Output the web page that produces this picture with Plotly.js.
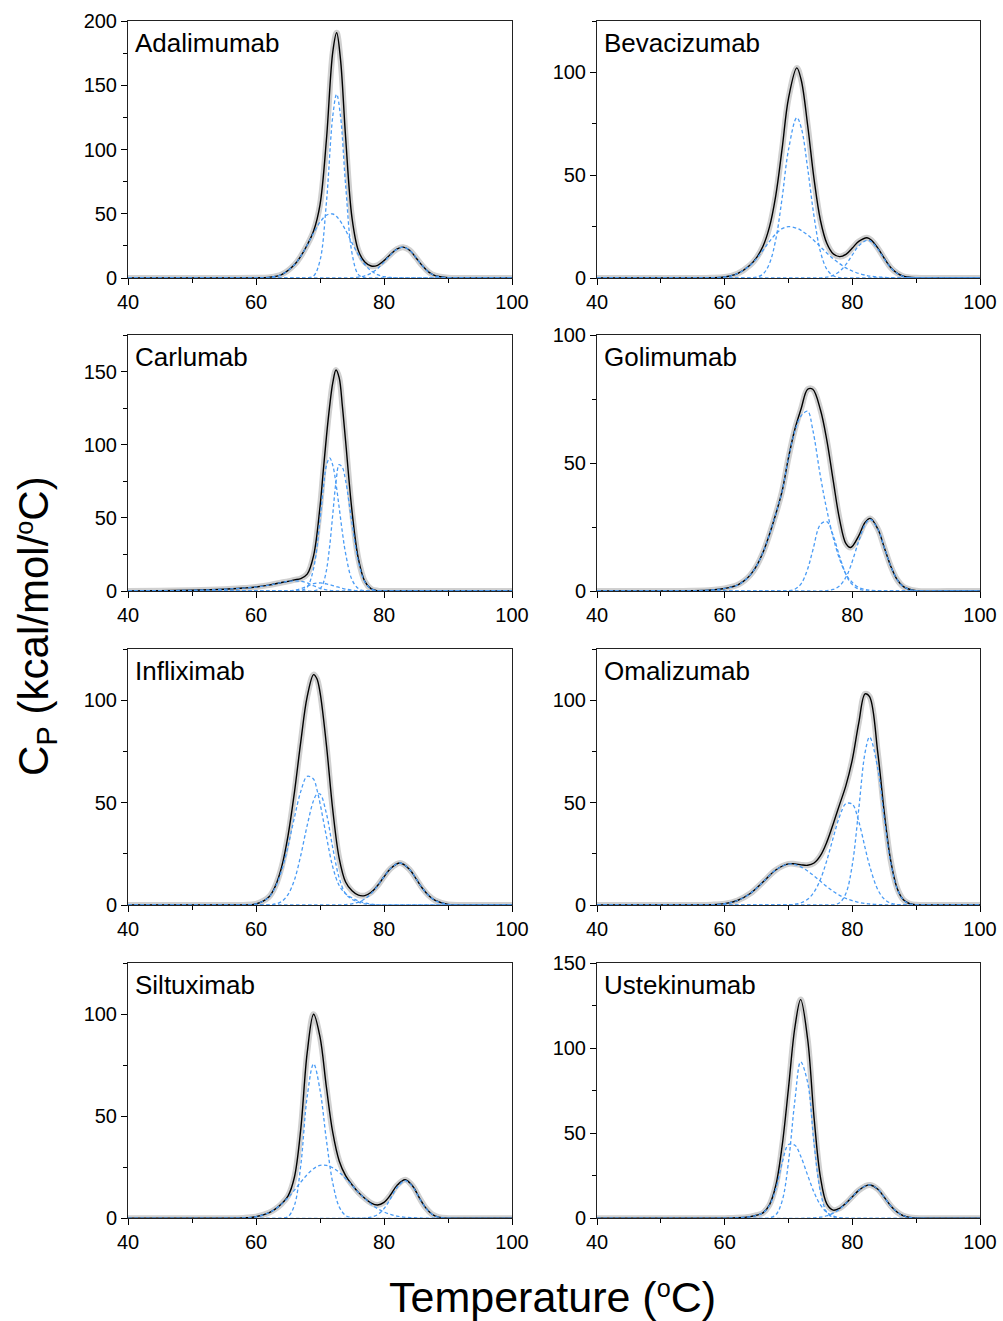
<!DOCTYPE html>
<html><head><meta charset="utf-8">
<script src="https://cdn.plot.ly/plotly-3.0.1.min.js"></script>
<style>body{margin:0;background:#fff}#chart{width:1003px;height:1321px}</style>
</head><body><div id="chart"></div>
<script>
// ---------- Adalimumab ----------
const adaT   = [40,55,60,62,64,66,67,68,69,70,71,72,72.6,73.2,74,75,76,77,78,79,80,81,82,83,84,85,86,87,88,90,92,95,100];
const adaFit = [0,0,0.1,0.5,2.7,10.3,17,25.7,36.6,57,107.4,176,190.8,170.3,109.7,46.8,21.3,12.4,9.3,9.9,13.5,18.3,22.5,24,21.6,15.8,9.5,4.6,1.8,0.2,0,0,0];
const adaC1  = [0,0,0,0,0,0,0,0.1,1.6,13.6,58.6,126.2,143,126.2,72.4,19.3,2.6,0.2,0,0,0,0,0,0,0,0,0,0,0,0,0,0,0];
const adaC2  = [0,0,0.06,0.5,2.7,10.3,17,25.6,35,43.4,48.8,49.8,47.8,44.1,37.2,27.3,18,10.5,5.5,2.6,1.1,0.4,0.15,0,0,0,0,0,0,0,0,0,0];
const adaC3  = [0,0,0,0,0,0,0,0,0,0,0,0,0,0,0.06,0.2,0.65,1.7,3.8,7.3,12.4,17.9,22.3,24,21.6,15.8,9.5,4.6,1.8,0.15,0,0,0];
// ---------- Bevacizumab ----------
const bevT   = [40,50,55,58,60,62,64,65,66,67,68,69,70,71.3,72,73,74,75,76,77,78,79,80,81,82.3,83,84,85,86,87,88,90,95,100];
const bevFit = [0,0,0,0.1,0.5,2.1,6.3,9.9,15.4,24.6,40,62.9,87.4,102.2,96.2,74.3,48.2,28.1,16.9,11.8,10.4,11.5,14.6,17.8,19.6,18.4,14.5,9.6,5.15,2.4,0.85,0.07,0,0];
const bevC1  = [0,0,0,0.1,0.5,2.1,6.2,9.5,13.5,17.7,21.4,24,25,24.2,23.1,20.9,18.2,15.2,12.2,9.4,7.0,4.9,3.4,2.2,1.2,0.8,0.5,0.3,0.15,0.1,0.05,0,0,0];
const bevC2  = [0,0,0,0,0,0,0.07,0.4,1.9,6.9,18.6,38.9,62.4,78,73.1,53.4,30,12.8,4.3,1.1,0.2,0,0,0,0,0,0,0,0,0,0,0,0,0];
const bevC3  = [0,0,0,0,0,0,0,0,0,0,0,0,0,0,0,0,0.03,0.1,0.4,1.3,3.2,6.6,11.2,15.6,18.4,17.6,14,9.3,5.0,2.3,0.8,0.07,0,0];
// ---------- Carlumab ----------
const carT   = [40,45,50,55,58,60,62,64,65,66,67,68,69,70,70.5,71,71.5,72,72.5,73,73.5,74,75,76,77,78,79,80,85,90,100];
const carFit = [0,0.2,0.5,1.2,2,2.7,4,5.8,6.6,7.6,8.5,11.5,24.2,57.6,81.5,105.2,126,142.4,151.1,145.7,126.2,102.5,54.7,21.95,6.6,1.4,0.2,0,0,0,0];
const carC1  = [0,0,0,0,0,0,0,0,0,0,0.3,2.7,15.5,48.7,69.7,85.6,91,85.9,73.3,56.9,40,25.7,7.7,1.6,0.2,0,0,0,0,0,0];
const carC2  = [0,0,0,0,0,0,0,0,0,0,0,0,0.1,1.6,5.3,14,30.3,52.6,74.6,86.4,84.4,75.5,46.4,20.1,6.3,1.4,0.2,0,0,0,0];
const carC3  = [0,0.2,0.5,1.2,2,2.7,4,5.8,6.6,7,6.6,5.5,3.6,1.8,1.2,0.7,0.4,0.2,0.1,0,0,0,0,0,0,0,0,0,0,0,0];
const carC4  = [0,0,0,0,0,0,0,0,0,0.6,1.6,3.3,5.0,5.5,5.3,4.9,4.3,3.7,3.1,2.4,1.8,1.3,0.6,0.25,0.1,0,0,0,0,0,0];
// ---------- Golimumab ----------
const golT   = [40,50,55,58,60,62,63,64,65,66,67,68,69,70,71,72,73,73.8,75,76,77,78,79,79.75,81,82,82.8,84,85,86,87,88,90,95,100];
const golFit = [0,0,0.1,0.4,1.0,2.3,3.9,6.2,9.8,15,22,30,39,52.1,63.2,71.4,78.8,78.8,70.8,58.95,43.2,28,18.5,17,21.5,26.8,28.35,24.2,17,9.8,4.5,1.7,0.1,0,0];
const golC1  = [0,0,0.1,0.4,1.0,2.3,3.9,6.2,9.8,15,22,30,39,52,62.5,68.5,70.2,63,44.8,31.7,20.9,12.5,6.6,4.0,1.4,0.6,0.3,0.1,0,0,0,0,0,0,0];
const golC2  = [0,0,0,0,0,0,0,0,0,0,0,0,0,0.1,0.7,2.9,8.6,15.8,26,27.1,21.7,13.5,6.5,3.2,0.7,0.2,0.05,0,0,0,0,0,0,0,0];
const golC3  = [0,0,0,0,0,0,0,0,0,0,0,0,0,0,0,0,0,0,0,0.15,0.6,2.0,5.4,9.8,19.4,26,28,24.1,17,9.8,4.5,1.7,0.1,0,0];
// ---------- Infliximab ----------
const infT   = [40,50,55,58,60,62,63,64,65,66,67,68,69,69.5,70,71,72,73,74,75,76,77,78,79,80,81,82.5,84,85,86,87,88,90,92,95,100];
const infFit = [0,0,0,0.04,0.5,3.9,9.1,18.5,33.8,54.9,79.8,101.7,112.5,110.6,103.9,78.2,46.3,22.8,11.2,6.9,4.8,4.6,6.2,9.5,13.8,17.7,20.5,17.3,12.9,8.2,4.6,2.2,0.3,0.02,0,0];
const infC1  = [0,0,0,0.04,0.5,3.8,8.6,16.8,28.7,42.7,55.5,62.8,61.4,56.6,49.7,33.5,18.5,9.5,5.5,3.5,2,1,0.4,0.1,0,0,0,0,0,0,0,0,0,0,0,0];
const infC2  = [0,0,0,0,0,0.1,0.5,1.7,5.1,12.2,24.3,38.9,51.1,54,54.2,44.7,27.8,13.2,5.5,2.8,1.4,0.6,0.2,0,0,0,0,0,0,0,0,0,0,0,0,0];
const infC3  = [0,0,0,0,0,0,0,0,0,0,0,0,0,0,0,0,0.02,0.07,0.2,0.6,1.4,3.0,5.6,9.4,13.8,17.7,20.5,17.3,12.9,8.2,4.6,2.2,0.3,0.02,0,0];
// ---------- Omalizumab ----------
const omaT   = [40,50,55,58,60,62,64,66,68,70,71,72,73,74,75,76,77,78,79,80,81,82,82.7,84,85,86,87,88,89,90,92,95,100];
const omaFit = [0,0,0.01,0.15,0.65,2.2,5.6,11.2,17.1,20.1,20.05,19.6,19.4,20.5,24.1,30.7,39.6,49,58.4,71,88.8,103.1,101.7,74,45.3,21.9,8.35,2.55,0.6,0.1,0,0,0];
const omaC1  = [0,0,0.01,0.15,0.65,2.2,5.6,11.2,17.1,20,19.7,18.5,16.6,14.2,11.6,9.0,6.7,4.7,3.2,2.1,1.3,0.7,0.5,0.2,0.1,0,0,0,0,0,0,0,0];
const omaC2  = [0,0,0,0,0,0,0,0,0,0.1,0.35,1.1,2.8,6.3,12.5,21.7,32.8,43.2,49.5,49.2,40.8,27.9,19.2,7.4,2.9,0.9,0.25,0.05,0,0,0,0,0];
const omaC3  = [0,0,0,0,0,0,0,0,0,0,0,0,0,0,0,0,0.1,1.1,5.7,19.7,46.7,74.5,82,66.4,42.3,21,8.1,2.5,0.6,0.1,0,0,0];
// ---------- Siltuximab ----------
const silT   = [40,50,55,58,60,62,63,64,65,66,67,68,69,70,71,72,73,74,75,76,77,78,79,80,81,82,83.3,84.5,85.5,86.5,87.5,88.5,90,92,95,100];
const silFit = [0,0,0.01,0.2,0.8,2.7,4.5,7.1,10.9,20.1,43.8,81.1,99.9,88.8,64.2,41.9,28.1,20.9,16.45,12.7,9.8,7.45,6.5,7.8,11.4,16,18.9,15.7,10.15,5.2,2.0,0.6,0.07,0,0,0];
const silC1  = [0,0,0,0,0,0,0,0.06,0.8,6.3,26.1,59.7,75.6,62.9,38.3,17.2,5.6,1.4,0.25,0,0,0,0,0,0,0,0,0,0,0,0,0,0,0,0,0];
const silC2  = [0,0,0.01,0.2,0.8,2.7,4.5,7.0,10.1,13.8,17.7,21.4,24.3,25.9,25.9,24.7,22.5,19.5,16.2,12.7,9.7,6.9,4.7,3.1,1.9,1.1,0.5,0.3,0.15,0.08,0.04,0,0,0,0,0];
const silC3  = [0,0,0,0,0,0,0,0,0,0,0,0,0,0,0,0,0,0,0,0.02,0.13,0.55,1.8,4.7,9.5,14.9,18.4,15.4,10,5.1,2.0,0.6,0.07,0,0,0];
// ---------- Ustekinumab ----------
const ustT   = [40,50,55,58,60,62,64,65,66,67,68,69,70,71,71.9,73,74,75,76,77,78,79,80,81,82,82.8,84,85,86,87,88,89,90,92,95,100];
const ustFit = [0,0,0,0,0.1,0.3,1.0,1.8,3.2,7.75,19.1,42.5,76.5,112.1,128.5,105.2,59.4,24.2,8.5,4.8,5.85,8.9,12.7,16.4,18.9,19.6,17.1,12.4,7.4,3.7,1.5,0.5,0.15,0,0,0];
const ustC1  = [0,0,0,0,0.1,0.3,1.0,1.8,3.2,7.5,17.1,32.4,43.4,42.9,36.6,25.3,15.3,7.9,3.5,1.3,0.4,0.1,0,0,0,0,0,0,0,0,0,0,0,0,0,0];
const ustC2  = [0,0,0,0,0,0,0,0,0,0.25,2.0,10.1,33.1,69.2,91.9,79.8,43.8,15.6,3.5,0.5,0.05,0,0,0,0,0,0,0,0,0,0,0,0,0,0,0];
const ustC3  = [0,0,0,0,0,0,0,0,0,0,0,0,0,0,0,0.1,0.27,0.7,1.5,3.0,5.4,8.8,12.7,16.4,18.9,19.6,17.1,12.4,7.4,3.7,1.5,0.5,0.15,0,0,0];

const names = ['Adalimumab','Bevacizumab','Carlumab','Golimumab','Infliximab','Omalizumab','Siltuximab','Ustekinumab'];
const xTicks = [40,60,80,100];

const panels = [
  {t:adaT, fit:adaFit, comps:[adaC1,adaC2,adaC3], ymax:200},
  {t:bevT, fit:bevFit, comps:[bevC1,bevC2,bevC3], ymax:125},
  {t:carT, fit:carFit, comps:[carC1,carC2,carC3,carC4], ymax:175},
  {t:golT, fit:golFit, comps:[golC1,golC2,golC3], ymax:100},
  {t:infT, fit:infFit, comps:[infC1,infC2,infC3], ymax:125},
  {t:omaT, fit:omaFit, comps:[omaC1,omaC2,omaC3], ymax:125},
  {t:silT, fit:silFit, comps:[silC1,silC2,silC3], ymax:125},
  {t:ustT, fit:ustFit, comps:[ustC1,ustC2,ustC3], ymax:150}
];

const W = 1003, H = 1321;
const colPx = [[128,512],[597,980]];
const rowPx = [[21,278],[335,591],[649,905],[963,1218.3]];
const FONT = 'Liberation Sans, Arial, Helvetica, sans-serif';

const traces = [];
const layout = {
  width: W, height: H,
  margin: {l:0, r:0, t:0, b:0},
  paper_bgcolor: '#fff', plot_bgcolor: '#fff',
  showlegend: false,
  font: {family: FONT, color: '#000'},
  annotations: []
};

panels.forEach((p, i) => {
  const k = i + 1;
  const xa = k === 1 ? 'x' : 'x' + k;
  const ya = k === 1 ? 'y' : 'y' + k;
  const col = i % 2, row = Math.floor(i / 2);
  const common = {x: p.t, mode: 'lines', xaxis: xa, yaxis: ya, hoverinfo: 'skip', showlegend: false};
  traces.push(Object.assign({}, common, {y: p.fit, line: {color: '#d0d0d0', width: 6, shape: 'spline', smoothing: 1}}));
  traces.push(Object.assign({}, common, {y: p.fit, line: {color: '#000', width: 1.4, shape: 'spline', smoothing: 1}}));
  p.comps.forEach(c => {
    traces.push(Object.assign({}, common, {y: c, line: {color: '#4a9cf6', width: 1.3, dash: '3.5px,2.5px', shape: 'spline', smoothing: 1}}));
  });
  const axBase = {
    ticks: 'outside', ticklen: 6, tickwidth: 1, tickcolor: '#000',
    showline: true, linecolor: '#222', linewidth: 1, mirror: true,
    showgrid: false, zeroline: false,
    tickfont: {size: 20, family: FONT, color: '#000'}
  };
  layout[(k === 1 ? 'xaxis' : 'xaxis' + k)] = Object.assign({}, axBase, {
    domain: [colPx[col][0] / W, colPx[col][1] / W],
    range: [40, 100], tickvals: xTicks, anchor: ya,
    minor: {dtick: 10, tick0: 40, ticks: 'outside', ticklen: 4, tickcolor: '#000', showgrid: false}
  });
  layout[(k === 1 ? 'yaxis' : 'yaxis' + k)] = Object.assign({}, axBase, {
    domain: [1 - rowPx[row][1] / H, 1 - rowPx[row][0] / H],
    range: [0, p.ymax], dtick: 50, tick0: 0, anchor: xa,
    minor: {dtick: 25, tick0: 0, ticks: 'outside', ticklen: 4, tickcolor: '#000', showgrid: false}
  });
  layout.annotations.push({
    xref: xa + ' domain', yref: ya + ' domain', x: 0.014, y: 0.98,
    xanchor: 'left', yanchor: 'top', showarrow: false,
    text: names[i], font: {size: 26, family: FONT, color: '#000'}
  });
});

layout.annotations.push({
  xref: 'paper', yref: 'paper', x: 552 / W, y: 1 - 1297 / H,
  xanchor: 'center', yanchor: 'middle', showarrow: false,
  text: 'Temperature (<span style="font-size:36px"><sup>o</sup></span>C)', font: {size: 43, family: FONT, color: '#000'}
});
layout.annotations.push({
  xref: 'paper', yref: 'paper', x: 36 / W, y: 1 - 626 / H,
  xanchor: 'center', yanchor: 'middle', showarrow: false, textangle: -90,
  text: 'C<sub>P</sub> (kcal/mol/<span style="font-size:36px"><sup>o</sup></span>C)', font: {size: 42, family: FONT, color: '#000'}
});

Plotly.newPlot('chart', traces, layout, {staticPlot: true, displayModeBar: false});
</script>
</body></html>
